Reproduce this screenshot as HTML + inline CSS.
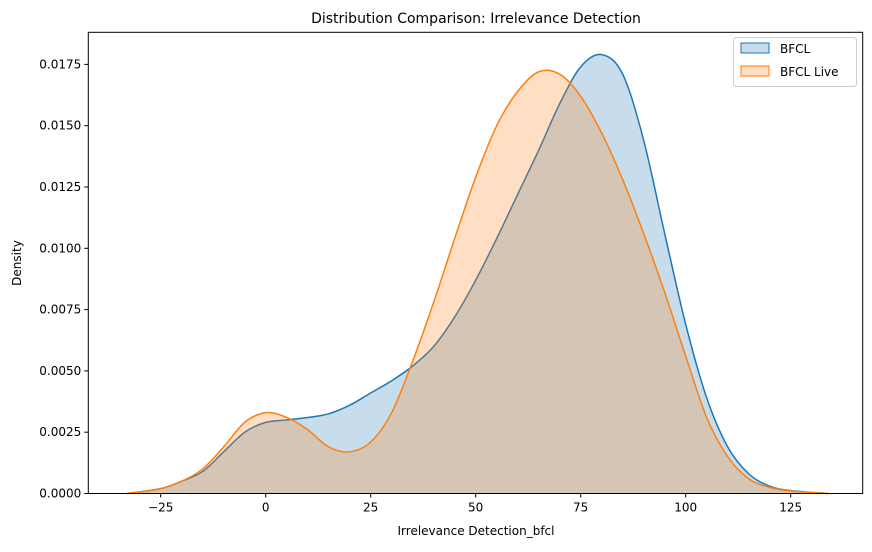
<!DOCTYPE html>
<html><head><meta charset="utf-8"><style>
body{margin:0;background:#fff;font-family:"Liberation Sans","DejaVu Sans",sans-serif;}
svg text{font-family:"DejaVu Sans","Liberation Sans",sans-serif;}
</style></head><body>
<svg id="chart" width="872" height="547">
<rect width="872" height="547" fill="#fff"/>
<g id="plot"></g>
</svg>
<script>
const xs = [-33,-25,-20,-15,-10,-5,0,5,10,15,20,25,30,35,40,45,50,55,60,65,70,75,80,85,90,95,100,105,110,115,120,125,134];
const bfcl = [0,0.0002,0.0005,0.0009,0.0017,0.0025,0.0029,0.0030,0.0031,0.00325,0.0036,0.0041,0.0046,0.0052,0.0060,0.0072,0.0087,0.0104,0.0122,0.0140,0.0159,0.0174,0.0179,0.0171,0.0144,0.0106,0.0069,0.0039,0.0019,0.0008,0.0003,0.00012,0];
const live = [0,0.0002,0.0005,0.0010,0.0019,0.0029,0.0033,0.0031,0.0026,0.0019,0.0017,0.0021,0.0033,0.0054,0.0078,0.0104,0.0129,0.0150,0.0164,0.0172,0.0171,0.0162,0.0147,0.0128,0.0106,0.0082,0.0056,0.0031,0.0015,0.0006,0.00025,0.0001,0];
const xTicks = [-25,0,25,50,75,100,125];
const yTicks = [0,0.0025,0.005,0.0075,0.01,0.0125,0.015,0.0175];
const L=88.3,R=862.7,T=32.3,B=493.5;
const sx=v=>265.7+v*4.2;
const sy=d=>B-d*24520;
const NS="http://www.w3.org/2000/svg";
const g=document.getElementById('plot');
function mk(t,a,parent){const e=document.createElementNS(NS,t);for(const k in a)e.setAttribute(k,a[k]);(parent||g).appendChild(e);return e;}
function path(ys){
  const p=xs.map((x,i)=>[sx(x),sy(ys[i])]);
  let d=`M${p[0][0]},${p[0][1]}`;
  for(let i=0;i<p.length-1;i++){
    const p0=p[Math.max(i-1,0)],p1=p[i],p2=p[i+1],p3=p[Math.min(i+2,p.length-1)];
    const c1=[p1[0]+(p2[0]-p0[0])/6,p1[1]+(p2[1]-p0[1])/6];
    const c2=[p2[0]-(p3[0]-p1[0])/6,p2[1]-(p3[1]-p1[1])/6];
    d+=` C${c1[0]},${c1[1]} ${c2[0]},${c2[1]} ${p2[0]},${p2[1]}`;
  }
  return d;
}
const series=[[bfcl,'#1f77b4','bfcl'],[live,'#ff7f0e','bfcl-live']];
series.forEach(([ys,c,n])=>{
  const d=path(ys);
  const f=mk('path',{d:d+` L${sx(xs[xs.length-1])},${B} L${sx(xs[0])},${B} Z`,fill:c,'fill-opacity':0.25,stroke:'none'});
  
  
  const l=mk('path',{d:d,fill:'none',stroke:c,'stroke-width':1.5});
  
  
});
const frame=mk('rect',{x:L,y:T,width:R-L,height:B-T,fill:'none',stroke:'#000','stroke-width':1});


xTicks.forEach(v=>{
  mk('line',{x1:sx(v),x2:sx(v),y1:B,y2:B+4,stroke:'#000'});
  const t=mk('text',{x:sx(v),y:B+18,'text-anchor':'middle','font-size':12});
  t.textContent=v<0?'\u2212'+(-v):v;
  
  
});
yTicks.forEach(v=>{
  mk('line',{x1:L-4,x2:L,y1:sy(v),y2:sy(v),stroke:'#000'});
  const t=mk('text',{x:L-7,y:sy(v)+4,'text-anchor':'end','font-size':12});
  t.textContent=v.toFixed(4);
  
  
});
</script>
<svg style="position:absolute;left:0;top:0" width="872" height="547">
<text x="476" y="23" text-anchor="middle" font-size="14">Distribution Comparison: Irrelevance Detection</text>
<text x="476" y="535" text-anchor="middle" font-size="12">Irrelevance Detection_bfcl</text>
<text x="21" y="263" text-anchor="middle" font-size="12" transform="rotate(-90 21 263)">Density</text>
<g>
<rect x="733.5" y="37.5" width="123" height="49" rx="3" fill="#fff" fill-opacity="0.8" stroke="#ccc"/>
<g>
<rect x="741" y="43" width="28" height="10" fill="#1f77b4" fill-opacity="0.25" stroke="#1f77b4"/>
<text x="780" y="53" font-size="12">BFCL</text></g>
<g>
<rect x="741" y="66" width="28" height="10" fill="#ff7f0e" fill-opacity="0.25" stroke="#ff7f0e"/>
<text x="780" y="76" font-size="12">BFCL Live</text></g>
</g>
</svg>
</body></html>
